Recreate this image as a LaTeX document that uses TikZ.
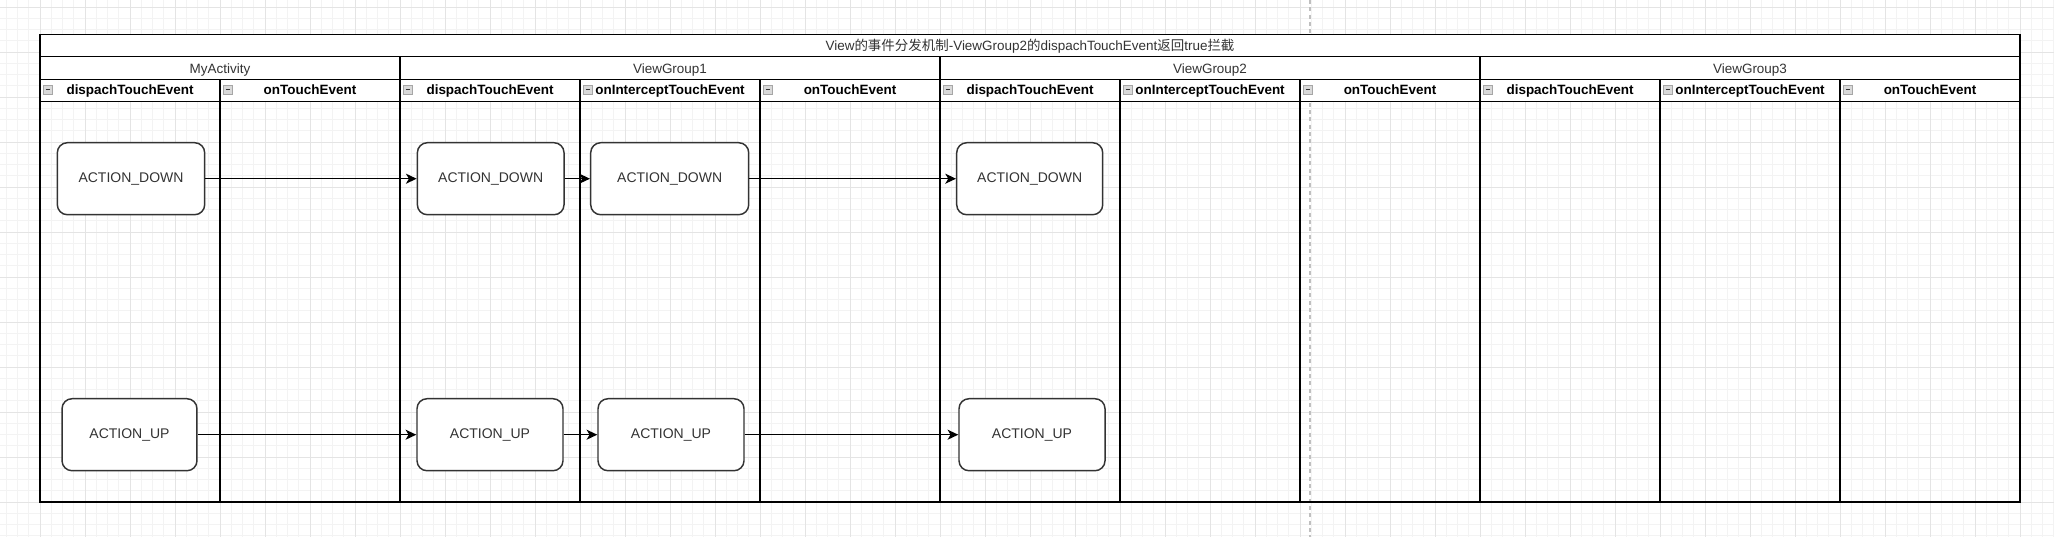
\documentclass[tikz,border=0pt]{standalone}
\usepackage{fontspec}
\setmainfont{Liberation Sans}
\newfontfamily\cjk{Noto Sans CJK SC}
\usepackage{tikz}
\usetikzlibrary{arrows.meta,shapes}
\definecolor{txt}{HTML}{333333}
\definecolor{gridmaj}{HTML}{E4E4E4}
\definecolor{gridmin}{HTML}{F3F3F3}
\tikzstyle{state}=[draw=txt,line width=1.1pt,fill=white,rounded corners=7.5pt,minimum width=110pt,minimum height=54pt,inner sep=0pt,text=txt,font=\fontsize{10.5}{12}\selectfont]
\tikzstyle{hdr}=[inner sep=0pt,anchor=base,font=\bfseries\fontsize{10.1}{12}\selectfont]
\tikzstyle{lane}=[inner sep=0pt,anchor=base,text=txt,font=\fontsize{10.1}{12}\selectfont]
\tikzstyle{wall}=[draw,line width=1.1pt]
\tikzstyle{icon}=[draw=gray!70,fill=gray!30,line width=0.5pt]
\tikzstyle{edge} = [draw,line width=1.1pt,-]

\begin{document}
\begin{tikzpicture}[x=0.75pt,y=-0.75pt]
        \tikzset{edge/.style = {draw,line width=1.1pt,->,>={Stealth[length=8pt,width=7.5pt,inset=2.2pt]}}}
        \useasboundingbox (0,0) rectangle (2054,537);
        % canvas grid
        \foreach \i in {0,...,182} \draw[gridmin,line width=0.6pt] (6.25+11.25*\i,0) -- (6.25+11.25*\i,537);
        \foreach \j in {0,...,47} \draw[gridmin,line width=0.6pt] (0,7+11.25*\j) -- (2054,7+11.25*\j);
        \foreach \k in {1,...,45} \draw[gridmaj,line width=0.6pt] (-5+45*\k,0) -- (-5+45*\k,537);
        \foreach \k in {0,...,11} \draw[gridmaj,line width=0.6pt] (0,7+45*\k) -- (2054,7+45*\k);
        \draw[gray!50,line width=1.1pt,dash pattern=on 3pt off 2.5pt] (1310,0) -- (1310,537);
        % pool
        \fill[white] (40,34.5) rectangle (2020,101.3);
        \draw[wall] (40,34.5) rectangle (2020,502);
        \foreach \y in {56.7,79.3,101.3} \draw[wall] (40,\y) -- (2020,\y);
        \foreach \x in {400,940,1480} \draw[wall] (\x,56.7) -- (\x,502);
        \foreach \x in {220,580,760,1120,1300,1660,1840} \draw[wall] (\x,79.3) -- (\x,502);
        \node[lane] (title) at (1030,50.5) {View{\cjk 的事件分发机制}-ViewGroup2{\cjk 的}dispachTouchEvent{\cjk 返回}true{\cjk 拦截}};
        \node[lane] (act) at (220,73) {MyActivity};
        \node[lane] (vg1) at (670,73) {ViewGroup1};
        \node[lane] (vg2) at (1210,73) {ViewGroup2};
        \node[lane] (vg3) at (1750,73) {ViewGroup3};
        % method columns
        \foreach \c/\t in {0/dispachTouchEvent,1/onTouchEvent,2/dispachTouchEvent,3/onInterceptTouchEvent,4/onTouchEvent,5/dispachTouchEvent,6/onInterceptTouchEvent,7/onTouchEvent,8/dispachTouchEvent,9/onInterceptTouchEvent,10/onTouchEvent} {
            \node[hdr] (h\c) at (130+180*\c,94.5) {\t};
            \draw[icon] (43.5+180*\c,85.5) rectangle ++(8.5,8.5);
            \draw[txt,line width=0.8pt] (45.5+180*\c,89.75) -- ++(4.5,0);
        }
        % events
        \node[state,minimum width=110.5pt] (d1) at (131,178.7) {ACTION\_DOWN};
        \node[state,minimum width=110pt] (d2) at (490.7,178.7) {ACTION\_DOWN};
        \node[state,minimum width=118.5pt] (d3) at (669.7,178.7) {ACTION\_DOWN};
        \node[state,minimum width=109.5pt] (d4) at (1029.7,178.7) {ACTION\_DOWN};
        \node[state,minimum width=101.2pt] (u1) at (129.5,434.7) {ACTION\_UP};
        \node[state,minimum width=109.5pt] (u2) at (490,434.7) {ACTION\_UP};
        \node[state,minimum width=109.5pt] (u3) at (671,434.7) {ACTION\_UP};
        \node[state,minimum width=109.5pt] (u4) at (1032,434.7) {ACTION\_UP};
        \draw[edge] (d1) to (d2);
        \draw[edge] (d2) to (d3);
        \draw[edge] (d3) to (d4);
        \draw[edge] (u1) to (u2);
        \draw[edge] (u2) to (u3);
        \draw[edge] (u3) to (u4);
\end{tikzpicture}
\end{document}
